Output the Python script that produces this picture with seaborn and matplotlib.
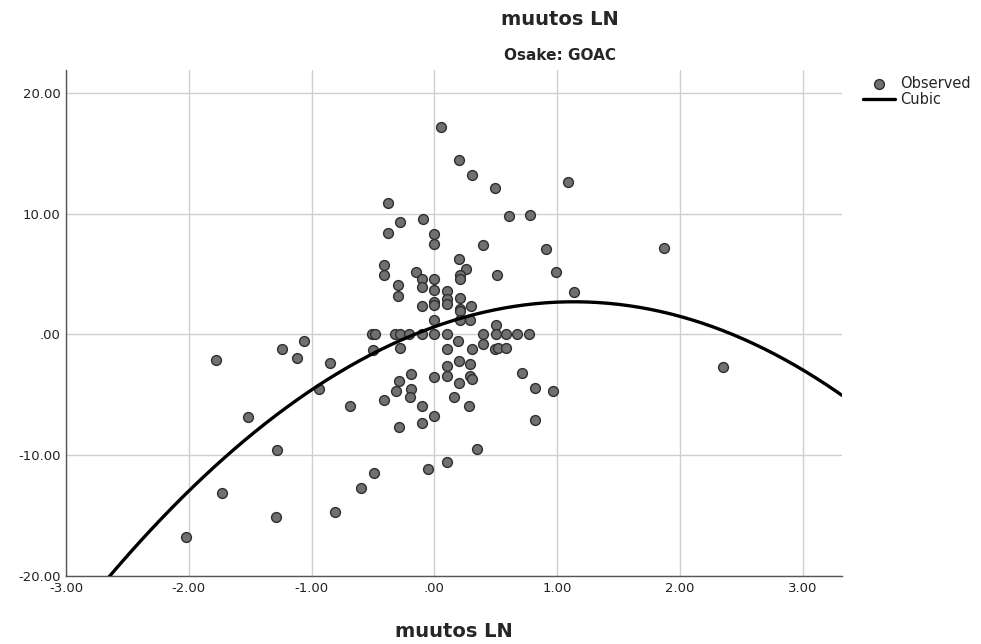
import matplotlib.pyplot as plt
import matplotlib.ticker as mticker
import numpy as np
import pandas as pd
import seaborn as sb

x_obs = [0.05, 0.20, 0.31, 0.49, 1.09, -0.38, -0.28, -0.09, -0.38, 0.00, 0.61, 0.78,
         0.00, 0.40, 0.91, -0.41, -0.41, 0.20, 0.26, 0.21, 0.21, 0.51, 0.99, 1.14,
         -0.15, -0.10, -0.10, 0.00, 0.00, -0.30, -0.30, 0.10, 0.10, 0.10, 0.00, 0.00,
         -0.10, 0.21, 0.21, 0.21, 0.30, 0.00, 0.21, 0.29, 0.50,
         -0.51, -0.48, -0.32, -0.28, -0.21, -0.10, 0.00, 0.10, 0.40, 0.50, 0.58, 0.67, 0.77,
         -0.50, -0.28, 0.10, 0.19, 0.31, 0.40, 0.49, 0.52, 0.58,
         0.10, 0.20, 0.29, -0.19, -0.29, 0.00, 0.10, 0.20, 0.29, 0.31, 0.71,
         -0.31, -0.19, -0.20, -0.41, -0.69, -0.10, 0.16, 0.28, 0.82, 0.97,
         0.00, -0.10, -0.29, 0.82, 0.35, 0.10, -0.05, -0.49, -0.60,
         -1.78, -1.24, -1.06, -1.12, -0.85, -0.94, -1.52, -1.28, -1.73, -1.29, -0.81, -2.02,
         1.87, 2.35]
y_obs = [17.21, 14.41, 13.23, 12.12, 12.61, 10.87, 9.29, 9.54, 8.44, 8.33, 9.85, 9.91,
         7.47, 7.42, 7.09, 5.73, 4.90, 6.28, 5.45, 4.95, 4.62, 4.90, 5.15, 3.52,
         5.20, 4.62, 3.93, 4.62, 3.65, 4.12, 3.15, 3.57, 2.96, 2.55, 2.69, 2.41,
         2.32, 3.02, 2.13, 1.91, 2.38, 1.16, 1.22, 1.22, 0.80,
         0.0, 0.0, 0.0, 0.0, 0.0, 0.0, 0.0, 0.0, 0.0, 0.0, 0.0, 0.0, 0.0,
         -1.27, -1.13, -1.19, -0.58, -1.19, -0.80, -1.21, -1.13, -1.13,
         -2.57, -2.18, -2.43, -3.29, -3.82, -3.49, -3.40, -3.98, -3.43, -3.70, -3.15,
         -4.67, -4.53, -5.14, -5.42, -5.89, -5.92, -5.20, -5.89, -4.40, -4.70,
         -6.75, -7.30, -7.63, -7.11, -9.51, -10.54, -11.12, -11.50, -12.72,
         -2.10, -1.21, -0.58, -1.96, -2.38, -4.51, -6.80, -9.57, -13.11, -15.15, -14.66, -16.76,
         7.14, -2.71]

x_ticks = [-3, -2, -1, 0, 1, 2, 3]
y_ticks = [-20, -10, 0, 10, 20]


def spss_fmt(v, pos=None):
    s = f"{v:.2f}"
    if s in ("0.00", "-0.00"):
        return ".00"
    return s


if __name__ == "__main__":
    sb.set_style("white")
    plt.rcParams["font.family"] = ["DejaVu Sans"]
    plt.rcParams["axes.unicode_minus"] = False

    df = pd.DataFrame({"x": x_obs, "y": y_obs})

    # cubic curve estimation like SPSS
    coefs = np.polyfit(df["x"], df["y"], 3)
    xs = np.linspace(-3.0, 3.32, 300)
    fit = pd.DataFrame({"x": xs, "y": np.polyval(coefs, xs)})

    fig = plt.figure(figsize=(9.81, 6.44), dpi=100)
    ax = fig.add_axes([0.0673, 0.1056, 0.7910, 0.7857])

    ax.grid(True, color="#cfcfcf", linewidth=1.0)
    ax.set_axisbelow(True)

    sb.scatterplot(data=df, x="x", y="y", ax=ax, s=50, color="#707070",
                   edgecolor="#2e2e2e", linewidth=1.0, label="Observed", zorder=3)
    sb.lineplot(data=fit, x="x", y="y", ax=ax, color="black", linewidth=2.4,
                label="Cubic", zorder=4)

    ax.set_xlim(-3.0, 3.32)
    ax.set_ylim(-20, 21.9)
    ax.set_xticks(x_ticks)
    ax.set_yticks(y_ticks)
    ax.xaxis.set_major_formatter(mticker.FuncFormatter(spss_fmt))
    ax.yaxis.set_major_formatter(mticker.FuncFormatter(spss_fmt))
    ax.tick_params(axis="both", length=0, labelsize=9.5, colors="#222222", pad=4)

    for side in ["top", "right"]:
        ax.spines[side].set_visible(False)
    for side in ["left", "bottom"]:
        ax.spines[side].set_color("#555555")
        ax.spines[side].set_linewidth(1.0)

    ax.set_xlabel("muutos LN", fontsize=14, fontweight="bold", labelpad=20)
    ax.set_ylabel("")

    fig.text(0.571, 0.970, "muutos LN", ha="center", va="center", fontsize=14, fontweight="bold")
    fig.text(0.571, 0.914, "Osake: GOAC", ha="center", va="center", fontsize=11, fontweight="bold")

    ax.legend(loc="upper left", bbox_to_anchor=(1.02, 1.0), frameon=False, fontsize=10.5,
              handlelength=2.2, handletextpad=0.3, labelspacing=0.1, borderaxespad=0)

    plt.savefig("out.png", dpi=100)
    plt.close()
